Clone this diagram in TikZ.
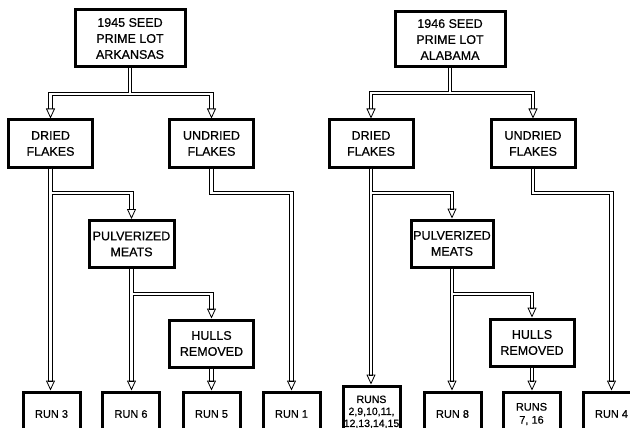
\documentclass[tikz,border=0pt]{standalone}
\usepackage{fontspec}
\setmainfont[FakeBold=0.6]{Liberation Sans}
\usetikzlibrary{arrows.meta,positioning}

% the pipes are drawn twice: walls first, then the bore with its arrow head
\newcommand{\pipelinks}[1]{%
    \draw[#1] (seed45.south) to[elbow=94] (dry45.north);
    \draw[#1] (seed45.south) to[elbow=94] (undry45.north);
    \draw[#1] (dry45.south) to[drop] (run3.north);
    \draw[#1] (dry45.south) to[elbow=193] (pulv45.north);
    \draw[#1] (undry45.south) to[elbow=193] (run1.north);
    \draw[#1] (pulv45.south) to[drop] (run6.north);
    \draw[#1] (pulv45.south) to[elbow=294] (hulls45.north);
    \draw[#1] (hulls45.south) to[drop] (run5.north);
    \draw[#1] (seed46.south) to[elbow=93] (dry46.north);
    \draw[#1] (seed46.south) to[elbow=93] (undry46.north);
    \draw[#1] (dry46.south) to[drop] (runs2.north);
    \draw[#1] (dry46.south) to[elbow=193] (pulv46.north);
    \draw[#1] (undry46.south) to[elbow=193] (run4.north);
    \draw[#1] (pulv46.south) to[drop] (run8.north);
    \draw[#1] (pulv46.south) to[elbow=294] (hulls46.north);
    \draw[#1] (hulls46.south) to[drop] (runs7.north);
}

\begin{document}
\begin{tikzpicture}[x=1pt,y=-1pt,
    box/.style={draw=black,line width=3pt,align=center,inner sep=0pt,fill=white,font=\fontsize{12.5}{16}\selectfont,minimum width=84pt,minimum height=47pt},
    runbox/.style={box,font=\fontsize{11}{13}\selectfont,minimum width=57pt,minimum height=44pt},
    elbow/.style={to path={-- (\tikztostart |- 0,#1) -| (\tikztotarget)}},
    drop/.style={to path={-- (\tikztostart |- \tikztotarget)}},
    pipewall/.style={line width=4.2pt,black,shorten >=9pt},
    pipebore/.style={line width=2.6pt,white,-{Triangle[open,color=black,line width=0.8pt,length=10pt,width=9pt]}}]
    \clip (0,0) rectangle (630,428);

    % 1945 lot
    \node[box,minimum width=110pt,minimum height=57pt] at (130,38.5) (seed45) {1945 SEED\\PRIME LOT\\ARKANSAS};
    \node[box] at (50.5,143.5) (dry45) {DRIED\\FLAKES};
    \node[box] at (211.5,143.5) (undry45) {UNDRIED\\FLAKES};
    \node[box,minimum width=85pt] at (131.5,244) (pulv45) {PULVERIZED\\MEATS};
    \node[box] at (211.5,343.5) (hulls45) {HULLS\\REMOVED};
    \node[runbox] at (51.5,414) (run3) {RUN 3};
    \node[runbox] at (131,414) (run6) {RUN 6};
    \node[runbox] at (211.5,414) (run5) {RUN 5};
    \node[runbox] at (291.5,414) (run1) {RUN 1};

    % 1946 lot
    \node[box,minimum width=110pt,minimum height=55pt] at (450,39.5) (seed46) {1946 SEED\\PRIME LOT\\ALABAMA};
    \node[box] at (371,143.5) (dry46) {DRIED\\FLAKES};
    \node[box] at (533,143.5) (undry46) {UNDRIED\\FLAKES};
    \node[box,minimum width=82pt] at (452,243.5) (pulv46) {PULVERIZED\\MEATS};
    \node[box] at (532,342.5) (hulls46) {HULLS\\REMOVED};
    \node[runbox,minimum height=52pt,font=\fontsize{10.5}{12}\selectfont] at (371.5,412) (runs2) {RUNS\\2,9,10,11,\\12,13,14,15};
    \node[runbox] at (452.5,414) (run8) {RUN 8};
    \node[runbox] at (531.5,414) (runs7) {RUNS\\7, 16};
    \node[runbox] at (611.5,414) (run4) {RUN 4};

    \pipelinks{pipewall}
    \pipelinks{pipebore}
\end{tikzpicture}
\end{document}
